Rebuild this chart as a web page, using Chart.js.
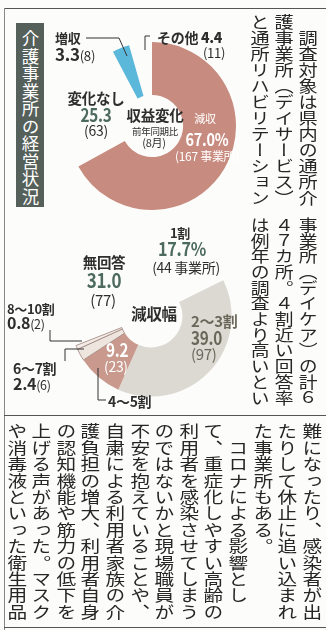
<!DOCTYPE html>
<html lang="ja">
<head>
<meta charset="utf-8">
<script src="https://cdn.jsdelivr.net/npm/chart.js@4/dist/chart.umd.min.js"></script>
<style>
  html, body { margin: 0; padding: 0; }
  body {
    width: 326px; height: 630px; position: relative; overflow: hidden;
    background: #fcfcfa; color: #2e2e2e;
    font-family: "Noto Sans CJK JP", "Noto Sans", sans-serif;
  }
  canvas { position: absolute; }
  .lbl { position: absolute; white-space: nowrap; line-height: 1; letter-spacing: -0.3px; transform-origin: left top; }
  .lbl.c { transform: translateX(-50%); transform-origin: center top; }
  .lbl.n { transform: scaleX(0.85); }
  .lbl.c.n { transform: translateX(-50%) scaleX(0.85); }
  .lbl small { font-size: 0.78em; font-weight: 400; }
  .col {
    position: absolute; writing-mode: vertical-rl; line-height: 1;
    white-space: nowrap; transform: scaleX(1.2); transform-origin: center top;
    color: #262626;
  }
  .title {
    position: absolute; left: 16px; top: 23px; width: 28px; height: 184px;
    background: #56605a; color: #fff; writing-mode: vertical-rl;
    font-size: 17.5px; line-height: 28px; text-align: center; letter-spacing: 0;
    box-sizing: border-box; padding-top: 4px;
  }
  .rule { position: absolute; background: #555; }
  svg { position: absolute; left: 0; top: 0; }
</style>
</head>
<body>
<div class="rule" style="left:4px;top:8px;width:322px;height:1px"></div>
<div class="rule" style="left:4px;top:8px;width:1px;height:622px;background:#888"></div>
<div class="rule" style="left:4px;top:415px;width:322px;height:1px"></div>
<div class="rule" style="left:4px;top:627px;width:322px;height:1px"></div>

<div class="title">介護事業所の経営状況</div>

<canvas id="incomeChart" width="168" height="168" style="left:68px;top:42px"></canvas>
<canvas id="cutChart" width="162" height="162" style="left:70px;top:235px"></canvas>

<svg width="326" height="630" fill="none" stroke="#333" stroke-width="1">
  <polyline points="86,38 119,38 127,56" />
  <polyline points="150,36 145,36 145,50" />
  <polyline points="50,330 50,341 82,341" />
  <polyline points="65,361 65,349 84,349" />
  <polyline points="98,368 98,400 106,400" />
</svg>

<script>
// 収益変化（前年同期比・8月）
const incomeLabels = ['減収', '変化なし', '増収', 'その他'];
const incomeShares = [67.0, 25.3, 3.3, 4.4];
const incomeCounts = [167, 63, 8, 11];

// 減収幅
const cutLabels = ['1割', '2〜3割', '4〜5割', '6〜7割', '8〜10割', '無回答'];
const cutShares = [17.7, 39.0, 9.2, 2.4, 0.8, 31.0];
const cutCounts = [44, 97, 23, 6, 2, 77];

// 本文
const upperCols = ['　調査対象は県内の通所介', '護事業所（デイサービス）', 'と通所リハビリテーション'];
const middleCols = ['事業所（デイケア）の計６', '４７カ所。４割近い回答率', 'は例年の調査より高いとい'];
const lowerCols = [
  '難になったり、感染者が出', 'たりして休止に追い込まれ', 'た事業所もある。',
  '　コロナによる影響とし', 'て、重症化しやすい高齢の', '利用者を感染させてしまう',
  'のではないかと現場職員が', '不安を抱えていることや、', '自粛による利用者家族の介',
  '護負担の増大、利用者自身', 'の認知機能や筋力の低下を', '上げる声があった。マスク',
  'や消毒液といった衛生用品',
];

const ring = (id, labels, values, colors, cutout, borders) =>
  new Chart(document.getElementById(id), {
    type: 'doughnut',
    data: {
      labels,
      datasets: [{
        data: values,
        backgroundColor: colors,
        borderWidth: borders,
        borderColor: '#9a8178',
      }],
    },
    options: {
      responsive: false,
      animation: false,
      cutout,
      events: [],
      plugins: { legend: { display: false }, tooltip: { enabled: false } },
    },
  });

ring('incomeChart', incomeLabels, incomeShares,
  ['#c78b7f', 'rgba(0,0,0,0)', '#5cb8da', 'rgba(0,0,0,0)'], '37%', 0);
ring('cutChart', cutLabels, cutShares,
  ['rgba(0,0,0,0)', '#dcd9d3', '#c8998c', '#efe5df', '#f4ece7', 'rgba(0,0,0,0)'], '39%',
  [0, 0, 0, 0.8, 0.8, 0]);

const put = (html, x, y, size, style = '', centered = false, narrow = false) => {
  const el = document.createElement('div');
  el.className = 'lbl' + (centered ? ' c' : '') + (narrow ? ' n' : '');
  el.innerHTML = html;
  el.style.cssText = `left:${x}px;top:${y}px;font-size:${size}px;${style}`;
  document.body.appendChild(el);
};
const pct = (v) => v.toFixed(1);
const bold = 'font-weight:700;';
const white = 'color:#fff;';
const green = 'color:#4d6a5e;';
const olive = 'color:#6a675a;';

// 収益変化のラベル
put(incomeLabels[2], 55, 31, 13, bold);
put(`<b>${pct(incomeShares[2])}</b><small>(${incomeCounts[2]})</small>`, 55, 45, 17);
put(`${incomeLabels[3]} <b>${pct(incomeShares[3])}</b>`, 157, 30, 14, bold);
put(`(${incomeCounts[3]})`, 203, 46, 13);
put(incomeLabels[1], 96, 91, 14.5, bold, true);
put(pct(incomeShares[1]), 96, 105, 18, bold + green, true, true);
put(`(${incomeCounts[1]})`, 96, 123, 14, '', true);
put('収益変化', 155, 108, 14.5, bold, true);
put('前年同期比', 155, 127, 9.5, '', true);
put('(8月)', 154, 137, 11, '', true);
put(incomeLabels[0], 205, 113, 11, white, true);
put(`${pct(incomeShares[0])}%`, 207, 130, 17, bold + white, true, true);
put(`(${incomeCounts[0]} 事業所)`, 207, 150, 12, white, true);

// 減収幅のラベル
put(cutLabels[0], 180, 226, 13, bold, true);
put(`${pct(cutShares[0])}%`, 182, 238, 19, bold + green, true, true);
put(`(${cutCounts[0]} 事業所)`, 186, 260, 14, '', true);
put(cutLabels[5], 104, 255, 14.5, bold, true);
put(pct(cutShares[5]), 104, 270, 20, bold + green, true, true);
put(`(${cutCounts[5]})`, 103, 292, 15, '', true);
put('減収幅', 154, 306, 15.5, bold, true);
put(cutLabels[1], 191, 313, 15, bold + olive);
put(pct(cutShares[1]), 191, 328, 18, bold + olive, false, true);
put(`(${cutCounts[1]})`, 191, 346, 15, olive);
put(pct(cutShares[2]), 106, 340, 18, bold + white, false, true);
put(`(${cutCounts[2]})`, 104, 359, 14, white);
put(cutLabels[4], 7, 302, 13, bold);
put(`<b>${pct(cutShares[4])}</b><small>(${cutCounts[4]})</small>`, 7, 314, 16);
put(cutLabels[3], 13, 361, 14, bold);
put(`<b>${pct(cutShares[3])}</b><small>(${cutCounts[3]})</small>`, 13, 375, 16);
put(cutLabels[2], 108, 394, 14, bold);

// 縦書きの本文
const column = (text, cx, top, size) => {
  const el = document.createElement('div');
  el.className = 'col';
  el.textContent = text;
  el.style.cssText = `left:${cx - size / 2}px;top:${top}px;width:${size}px;font-size:${size}px;`;
  document.body.appendChild(el);
};
upperCols.forEach((t, i) => column(t, 308 - i * 24, 14, 16));
middleCols.forEach((t, i) => column(t, 308 - i * 24, 217, 15.7));
lowerCols.forEach((t, i) => column(t, 312 - i * 24.6, 423, 16.4));
</script>
</body>
</html>
